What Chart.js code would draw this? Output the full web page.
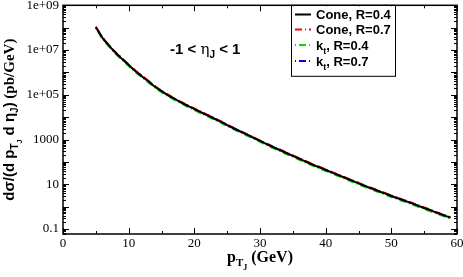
<!DOCTYPE html>
<html>
<head>
<meta charset="utf-8">
<script src="https://cdn.jsdelivr.net/npm/chart.js@4.4.1/dist/chart.umd.min.js"></script>
<style>
  body { margin: 0; background: #fff; }
  canvas { display: block; }
</style>
</head>
<body>
<canvas id="chart_jets" width="463" height="277"></canvas>
<script>
// pT of the jet (GeV)
const pt = [5, 6, 7, 8, 9, 10, 11, 12, 13, 14, 15, 16, 17, 18, 19, 20, 21, 22, 23, 24,
  25, 26, 27, 28, 29, 30, 31, 32, 33, 34, 35, 36, 37, 38, 39, 40, 41, 42, 43, 44,
  45, 46, 47, 48, 49, 50, 51, 52, 53, 54, 55, 56, 57, 58, 59];

// dsigma/(dpT deta) in pb/GeV
const cone04 = [1.05e8, 3.55e7, 1.58e7, 7.6e6, 4.0e6, 2.14e6, 1.17e6, 6.8e5, 4.0e5, 2.3e5,
  1.45e5, 9.5e4, 6.5e4, 4.5e4, 3.2e4, 2.3e4, 1.66e4, 1.2e4, 8700, 6300,
  4400, 3160, 2290, 1660, 1200, 870, 630, 457, 340, 250,
  186, 138, 102, 76, 57.5, 43.7, 33.1, 25.1, 19.1, 14.5,
  11.0, 8.3, 6.5, 5.0, 3.9, 3.0, 2.34, 1.86, 1.45, 1.12,
  0.87, 0.68, 0.52, 0.41, 0.32];
const cone07 = [1.11e8, 3.76e7, 1.67e7, 8.1e6, 4.24e6, 2.27e6, 1.24e6, 7.2e5, 4.24e5, 2.44e5,
  1.54e5, 1.01e5, 6.9e4, 4.77e4, 3.39e4, 2.44e4, 1.76e4, 1.27e4, 9200, 6680,
  4660, 3350, 2430, 1760, 1270, 922, 668, 484, 360, 265,
  197, 146, 108, 80.6, 61, 46.3, 35.1, 26.6, 20.2, 15.4,
  11.7, 8.8, 6.9, 5.3, 4.13, 3.18, 2.48, 1.97, 1.54, 1.19,
  0.92, 0.72, 0.55, 0.43, 0.34];
const kt04 = [9.5e7, 3.2e7, 1.42e7, 6.8e6, 3.6e6, 1.93e6, 1.05e6, 6.1e5, 3.6e5, 2.07e5,
  1.3e5, 8.6e4, 5.85e4, 4.05e4, 2.88e4, 2.07e4, 1.49e4, 1.08e4, 7830, 5670,
  3960, 2840, 2060, 1490, 1080, 783, 567, 411, 306, 225,
  167, 124, 92, 68.4, 51.8, 39.3, 29.8, 22.6, 17.2, 13.0,
  9.9, 7.5, 5.85, 4.5, 3.5, 2.7, 2.1, 1.67, 1.3, 1.0,
  0.78, 0.61, 0.47, 0.37, 0.29];
const kt07 = [1.07e8, 3.62e7, 1.61e7, 7.75e6, 4.08e6, 2.18e6, 1.19e6, 6.9e5, 4.08e5, 2.35e5,
  1.48e5, 9.7e4, 6.6e4, 4.6e4, 3.26e4, 2.35e4, 1.69e4, 1.22e4, 8870, 6430,
  4490, 3220, 2340, 1690, 1220, 887, 643, 466, 347, 255,
  190, 141, 104, 77.5, 58.7, 44.6, 33.8, 25.6, 19.5, 14.8,
  11.2, 8.5, 6.6, 5.1, 3.98, 3.06, 2.39, 1.9, 1.48, 1.14,
  0.89, 0.69, 0.53, 0.42, 0.33];

const seriesNames = ["Cone, R=0.4", "Cone, R=0.7", "k_t, R=0.4", "k_t, R=0.7"];
const seriesColors = ["#000000", "#ff0000", "#00dd00", "#0000ff"];

const xTicks = [0, 10, 20, 30, 40, 50, 60];
const yTickValues = [0.1, 1, 10, 100, 1000, 1e4, 1e5, 1e6, 1e7, 1e8, 1e9];
const yTickLabels = ["0.1", "", "10", "", "1000", "", "1e+05", "", "1e+07", "", "1e+09"];

const dashes = [[], [7, 3, 1, 3], [1, 3, 7, 3], [1, 3, 7, 3]];

function pts(values) {
  return pt.map((x, i) => ({ x: x, y: values[i] }));
}

// draws a run of text pieces [text, font, dy] from x, y
function drawPieces(ctx, pieces, x, y) {
  pieces.forEach((p) => {
    ctx.font = p[1];
    ctx.fillText(p[0], x, y + (p[2] || 0));
    x += ctx.measureText(p[0]).width;
  });
  return x;
}
function piecesWidth(ctx, pieces) {
  let w = 0;
  pieces.forEach((p) => {
    ctx.font = p[1];
    w += ctx.measureText(p[0]).width;
  });
  return w;
}

const decor = {
  id: "decor",
  afterDraw(chart) {
    const ctx = chart.ctx;
    const a = chart.chartArea;
    const xs = chart.scales.x;
    const ys = chart.scales.y;
    ctx.save();
    ctx.strokeStyle = "#000";
    ctx.fillStyle = "#000";

    // inward ticks
    ctx.lineWidth = 1;
    ctx.beginPath();
    for (let v = 0; v <= 60; v += 5) {
      const px = Math.round(xs.getPixelForValue(v)) + 0.5;
      const len = v % 10 === 0 ? 6 : 3;
      ctx.moveTo(px, a.bottom); ctx.lineTo(px, a.bottom - len);
      ctx.moveTo(px, a.top); ctx.lineTo(px, a.top + len);
    }
    for (let d = -2; d <= 9; d++) {
      for (let m = 1; m <= 9; m++) {
        const v = m * Math.pow(10, d);
        if (v < ys.min || v > ys.max) continue;
        const py = Math.round(ys.getPixelForValue(v)) + 0.5;
        const len = m === 1 ? 6 : 3;
        ctx.moveTo(a.left, py); ctx.lineTo(a.left + len, py);
        ctx.moveTo(a.right, py); ctx.lineTo(a.right - len, py);
      }
    }
    ctx.stroke();

    // frame
    ctx.lineWidth = 1.5;
    ctx.strokeRect(a.left, a.top, a.right - a.left, a.bottom - a.top);

    // legend box
    const lx = 291, ly = a.top, lw = 104, lh = 71;
    ctx.fillStyle = "#fff";
    ctx.fillRect(lx, ly + 1, lw, lh - 1);
    ctx.lineWidth = 1;
    ctx.strokeRect(lx + 0.5, ly, lw, lh);
    const baselines = [19, 34, 49.5, 65.5];
    ctx.textBaseline = "alphabetic";
    seriesNames.forEach((name, i) => {
      const b = baselines[i];
      ctx.strokeStyle = seriesColors[i];
      ctx.lineWidth = 2;
      ctx.setLineDash(dashes[i]);
      ctx.beginPath();
      ctx.moveTo(295, b - 4.5);
      ctx.lineTo(311, b - 4.5);
      ctx.stroke();
      ctx.setLineDash([]);
      ctx.fillStyle = "#000";
      const f = "bold 13px 'Liberation Sans', Arial, sans-serif";
      const parts = name.split("_");
      if (parts.length === 1) {
        drawPieces(ctx, [[name, f]], 316, b);
      } else {
        const rest = parts[1];
        drawPieces(ctx, [
          [parts[0], f],
          [rest.charAt(0), "bold 9px 'Liberation Sans', Arial, sans-serif", 4],
          [rest.slice(1), f]
        ], 316, b);
      }
    });

    // eta range text
    ctx.fillStyle = "#000";
    const fa = "bold 15px 'Liberation Sans', Arial, sans-serif";
    drawPieces(ctx, [
      ["-1 < ", fa],
      ["\u03b7", "15px 'DejaVu Serif', serif"],
      ["J", "bold 10px 'Liberation Sans', Arial, sans-serif", 4],
      [" < 1", fa]
    ], 170, 54);

    // x title
    const fx = "bold 16px 'Liberation Serif', 'Times New Roman', serif";
    const xt = [
      ["p", fx],
      ["T", "bold 11px 'Liberation Serif', serif", 4],
      ["J", "bold 8px 'Liberation Serif', serif", 8],
      [" (GeV)", fx]
    ];
    const cx = (a.left + a.right) / 2;
    drawPieces(ctx, xt, cx - piecesWidth(ctx, xt) / 2, 262);

    // y title
    const fy = "bold 15px 'Liberation Sans', Arial, sans-serif";
    const yt = [
      ["d\u03c3/(d p", fy],
      ["T", "bold 10px 'Liberation Sans', Arial, sans-serif", 4],
      ["J", "bold 7px 'Liberation Sans', Arial, sans-serif", 8],
      [" d \u03b7", fy],
      ["J", "bold 10px 'Liberation Sans', Arial, sans-serif", 4],
      [")", fy],
      [" (pb/GeV)", "bold 15px 'Liberation Serif', 'Times New Roman', serif"]
    ];
    ctx.translate(14, (a.top + a.bottom) / 2);
    ctx.rotate(-Math.PI / 2);
    drawPieces(ctx, yt, -piecesWidth(ctx, yt) / 2, 0);
    ctx.restore();
  }
};

const sets = [cone04, cone07, kt04, kt07].map((vals, i) => ({
  label: seriesNames[i],
  data: pts(vals),
  borderColor: seriesColors[i],
  backgroundColor: seriesColors[i],
  borderWidth: 2,
  borderDash: dashes[i],
  pointRadius: 0,
  fill: false,
  cubicInterpolationMode: "monotone"
}));

new Chart(document.getElementById("chart_jets"), {
  type: "line",
  data: { datasets: sets },
  options: {
    responsive: false,
    animation: false,
    devicePixelRatio: 1,
    layout: { padding: { top: 5.3, right: 6, left: 0, bottom: 0 } },
    plugins: {
      legend: { display: false },
      tooltip: { enabled: false }
    },
    scales: {
      x: {
        type: "linear",
        min: 0,
        max: 60,
        afterBuildTicks: (s) => { s.ticks = xTicks.map((v) => ({ value: v })); },
        afterFit: (s) => { s.height = 43; s.paddingLeft = 0; s.paddingRight = 0; },
        grid: { display: false, drawTicks: false },
        border: { display: false },
        ticks: {
          padding: 2,
          color: "#000",
          font: { family: "'Liberation Serif', 'Times New Roman', serif", size: 13 },
          maxRotation: 0
        }
      },
      y: {
        type: "logarithmic",
        min: 0.06,
        max: 1e9,
        afterBuildTicks: (s) => { s.ticks = yTickValues.map((v) => ({ value: v })); },
        afterFit: (s) => { s.width = 63; s.paddingTop = 0; s.paddingBottom = 0; },
        grid: { display: false, drawTicks: false },
        border: { display: false },
        ticks: {
          padding: 4,
          color: "#000",
          autoSkip: false,
          font: { family: "'Liberation Serif', 'Times New Roman', serif", size: 13 },
          callback: (v) => {
            const i = yTickValues.indexOf(v);
            return i >= 0 ? yTickLabels[i] : "";
          }
        }
      }
    }
  },
  plugins: [decor]
});
</script>
</body>
</html>
